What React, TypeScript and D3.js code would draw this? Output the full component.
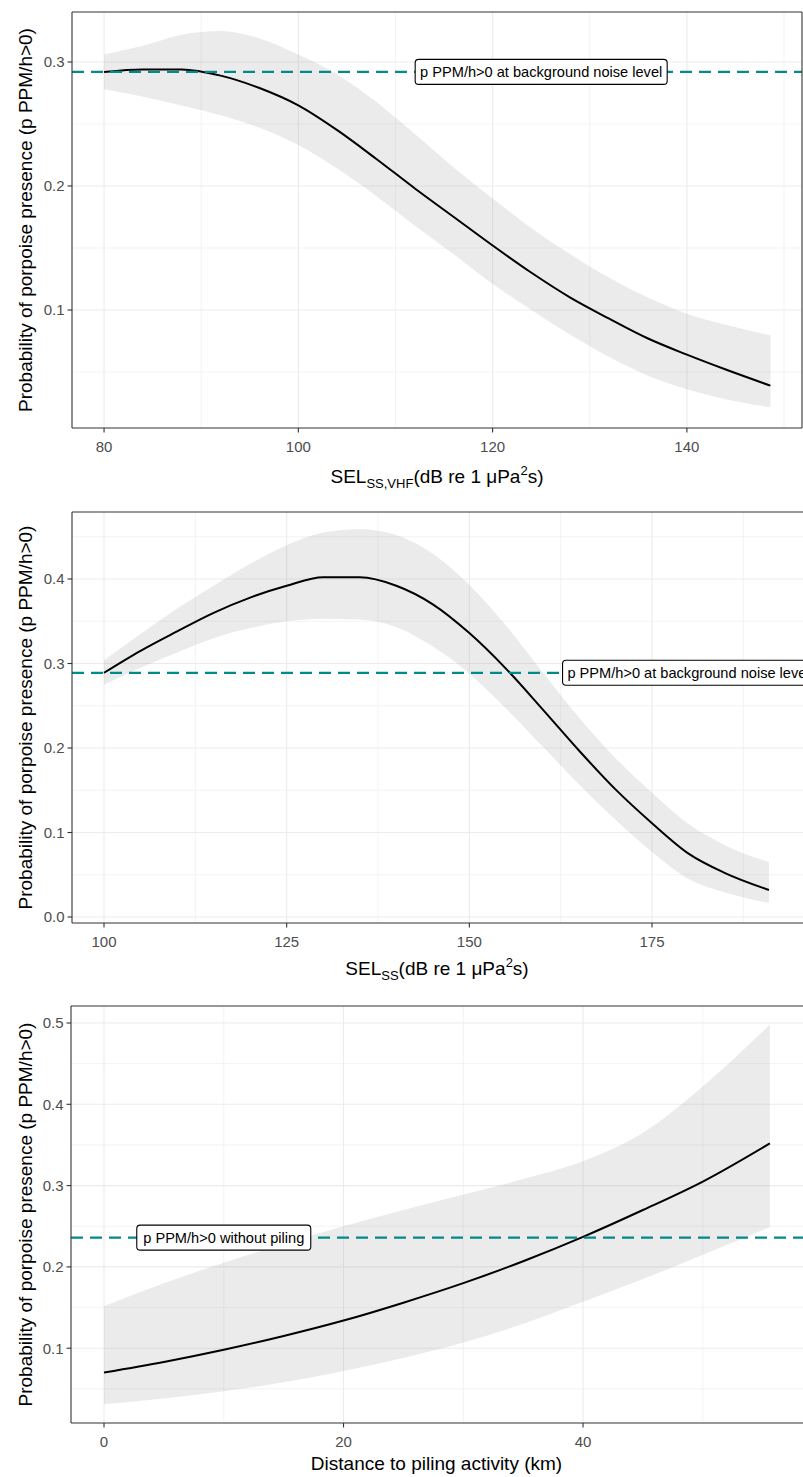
import React from "react";
import * as d3 from "d3";

// ---------- Panel 1: SEL_SS,VHF ----------
const sel1X = [80, 84, 88, 92, 96, 100, 104, 108, 112, 116, 120, 124, 128, 132, 136, 140, 144, 148.6];
const sel1Fit = [0.292, 0.294, 0.294, 0.289, 0.279, 0.265, 0.245, 0.222, 0.198, 0.175, 0.152, 0.13, 0.11, 0.093, 0.077, 0.064, 0.052, 0.039];
const sel1Upper = [0.306, 0.313, 0.322, 0.325, 0.319, 0.306, 0.29, 0.268, 0.242, 0.215, 0.19, 0.166, 0.145, 0.126, 0.11, 0.097, 0.088, 0.0796];
const sel1Lower = [0.278, 0.272, 0.265, 0.257, 0.247, 0.233, 0.214, 0.192, 0.168, 0.145, 0.121, 0.1, 0.08, 0.062, 0.047, 0.036, 0.028, 0.0216];
const sel1Baseline = 0.292;
const sel1XTicks = [80, 100, 120, 140];
const sel1XMinor = [90, 110, 130, 150];
const sel1YTicks = [0.1, 0.2, 0.3];
const sel1YMinor = [0.05, 0.15, 0.25];
const sel1XDomain = [76.7, 151.85];
const sel1YDomain = [0.00484, 0.3403];
const sel1LabelX = 125;

// ---------- Panel 2: SEL_SS ----------
const sel2X = [100, 105, 110, 115, 120, 125, 130, 135, 140, 145, 150, 155, 160, 165, 170, 175, 180, 185, 191];
const sel2Fit = [0.289, 0.315, 0.338, 0.36, 0.378, 0.392, 0.402, 0.402, 0.392, 0.37, 0.336, 0.294, 0.246, 0.197, 0.151, 0.111, 0.075, 0.052, 0.032];
const sel2Upper = [0.304, 0.335, 0.365, 0.392, 0.418, 0.44, 0.455, 0.459, 0.452, 0.43, 0.393, 0.345, 0.29, 0.236, 0.188, 0.147, 0.11, 0.085, 0.065];
const sel2Lower = [0.275, 0.295, 0.313, 0.33, 0.342, 0.35, 0.353, 0.352, 0.343, 0.32, 0.288, 0.247, 0.202, 0.157, 0.115, 0.077, 0.045, 0.029, 0.0166];
const sel2Baseline = 0.289;
const sel2XTicks = [100, 125, 150, 175];
const sel2XMinor = [112.5, 137.5, 162.5, 187.5];
const sel2YTicks = [0.0, 0.1, 0.2, 0.3, 0.4];
const sel2YMinor = [0.05, 0.15, 0.25, 0.35, 0.45];
const sel2XDomain = [95.62, 195.8];
const sel2YDomain = [-0.0071, 0.4793];
const sel2LabelX = 180;

// ---------- Panel 3: Distance ----------
const distX = [0, 5, 10, 15, 20, 25, 30, 35, 40, 45, 50, 55.6];
const distFit = [0.07, 0.083, 0.098, 0.115, 0.134, 0.156, 0.18, 0.207, 0.237, 0.27, 0.305, 0.352];
const distUpper = [0.152, 0.18, 0.205, 0.228, 0.25, 0.27, 0.289, 0.308, 0.33, 0.365, 0.422, 0.498];
const distLower = [0.031, 0.038, 0.047, 0.058, 0.072, 0.088, 0.107, 0.13, 0.157, 0.185, 0.215, 0.249];
const distBaseline = 0.236;
const distXTicks = [0, 20, 40];
const distXMinor = [10, 30, 50];
const distYTicks = [0.1, 0.2, 0.3, 0.4, 0.5];
const distYMinor = [0.05, 0.15, 0.25, 0.35, 0.45];
const distXDomain = [-2.756, 58.45];
const distYDomain = [0.008, 0.5209];
const distLabelX = 10;

const yTitle = "Probability of porpoise presence (p PPM/h>0)";
const labelBackground = "p PPM/h>0 at background noise level";
const labelNoPiling = "p PPM/h>0 without piling";

const FONT = "'Liberation Sans', Arial, Helvetica, sans-serif";

type PanelProps = {
  id: string;
  box: { left: number; right: number; top: number; bottom: number };
  xs: number[];
  fit: number[];
  upper: number[];
  lower: number[];
  baseline: number;
  xTicks: number[];
  xMinor: number[];
  yTicks: number[];
  yMinor: number[];
  xDomain: number[];
  yDomain: number[];
  labelX: number;
  label: string;
  labelW: number;
  titleY: number;
  xTitle: React.ReactNode;
  drawRight: boolean;
};

function Panel(p: PanelProps) {
  const { box } = p;
  const x = d3.scaleLinear().domain(p.xDomain).range([box.left, box.right]);
  const y = d3.scaleLinear().domain(p.yDomain).range([box.bottom, box.top]);
  const rows = p.xs.map((v, i) => ({ x: v, f: p.fit[i], u: p.upper[i], l: p.lower[i] }));
  const area = d3
    .area<any>()
    .x((d) => x(d.x))
    .y0((d) => y(d.l))
    .y1((d) => y(d.u))
    .curve(d3.curveMonotoneX);
  const line = d3
    .line<any>()
    .x((d) => x(d.x))
    .y((d) => y(d.f))
    .curve(d3.curveMonotoneX);
  const fmt = (v: number) => d3.format(".1f")(v);
  const lx = x(p.labelX);
  const ly = y(p.baseline);
  const fmtX = (v: number) => String(v);
  return (
    <g>
      <defs>
        <clipPath id={p.id}>
          <rect x={box.left} y={box.top} width={box.right - box.left} height={box.bottom - box.top} />
        </clipPath>
      </defs>
      <rect x={box.left} y={box.top} width={box.right - box.left} height={box.bottom - box.top} fill="#fff" />
      {p.yMinor.map((v) => (
        <line key={"ym" + v} x1={box.left} x2={box.right} y1={y(v)} y2={y(v)} stroke="#EBEBEB" strokeWidth={0.6} />
      ))}
      {p.xMinor.map((v) => (
        <line key={"xm" + v} x1={x(v)} x2={x(v)} y1={box.top} y2={box.bottom} stroke="#EBEBEB" strokeWidth={0.6} />
      ))}
      {p.yTicks.map((v) => (
        <line key={"yg" + v} x1={box.left} x2={box.right} y1={y(v)} y2={y(v)} stroke="#EBEBEB" strokeWidth={1.1} />
      ))}
      {p.xTicks.map((v) => (
        <line key={"xg" + v} x1={x(v)} x2={x(v)} y1={box.top} y2={box.bottom} stroke="#EBEBEB" strokeWidth={1.1} />
      ))}
      <g clipPath={`url(#${p.id})`}>
        <path d={area(rows) || ""} fill="#999999" fillOpacity={0.2} />
        <path d={line(rows) || ""} fill="none" stroke="#000" strokeWidth={2} />
        <line
          x1={box.left}
          x2={box.right}
          y1={y(p.baseline)}
          y2={y(p.baseline)}
          stroke="#008B8B"
          strokeWidth={2.3}
          strokeDasharray="12 7"
        />
      </g>
      <rect
        x={lx - p.labelW / 2}
        y={ly - 12.5}
        width={p.labelW}
        height={25}
        rx={3.5}
        ry={3.5}
        fill="#fff"
        stroke="#000"
        strokeWidth={1.1}
      />
      <text x={lx} y={ly} dy="0.35em" textAnchor="middle" fontFamily={FONT} fontSize={14.6} fill="#000">
        {p.label}
      </text>
      {/* panel border */}
      <line x1={box.left} x2={box.left} y1={box.top} y2={box.bottom} stroke="#333" strokeWidth={1.1} />
      <line x1={box.left} x2={box.right} y1={box.bottom} y2={box.bottom} stroke="#333" strokeWidth={1.1} />
      <line x1={box.left} x2={box.right} y1={box.top} y2={box.top} stroke="#333" strokeWidth={1.1} />
      {p.drawRight && (
        <line x1={box.right} x2={box.right} y1={box.top} y2={box.bottom} stroke="#333" strokeWidth={1.1} />
      )}
      {/* y ticks */}
      {p.yTicks.map((v) => (
        <g key={"yt" + v}>
          <line x1={box.left - 4.5} x2={box.left} y1={y(v)} y2={y(v)} stroke="#333" strokeWidth={1.1} />
          <text
            x={box.left - 7.5}
            y={y(v)}
            dy="0.36em"
            textAnchor="end"
            fontFamily={FONT}
            fontSize={15}
            fill="#4D4D4D"
          >
            {fmt(v)}
          </text>
        </g>
      ))}
      {/* x ticks */}
      {p.xTicks.map((v) => (
        <g key={"xt" + v}>
          <line x1={x(v)} x2={x(v)} y1={box.bottom} y2={box.bottom + 4.5} stroke="#333" strokeWidth={1.1} />
          <text
            x={x(v)}
            y={box.bottom + 19}
            dy="0.36em"
            textAnchor="middle"
            fontFamily={FONT}
            fontSize={15}
            fill="#4D4D4D"
          >
            {fmtX(v)}
          </text>
        </g>
      ))}
      {/* y title */}
      <text
        transform={`translate(25,${(box.top + box.bottom) / 2}) rotate(-90)`}
        dy="0.35em"
        textAnchor="middle"
        fontFamily={FONT}
        fontSize={19}
        fill="#000"
      >
        {yTitle}
      </text>
      {/* x title */}
      <text
        x={(box.left + Math.min(box.right, 802)) / 2}
        y={p.titleY}
        dy="0.35em"
        textAnchor="middle"
        fontFamily={FONT}
        fontSize={19}
        fill="#000"
      >
        {p.xTitle}
      </text>
    </g>
  );
}

export default function App() {
  const t1 = (
    <>
      <tspan>SEL</tspan>
      <tspan fontSize={13} dy={5}>SS,VHF</tspan>
      <tspan dy={-5}>(dB re 1 μPa</tspan>
      <tspan fontSize={13} dy={-8}>2</tspan>
      <tspan dy={8}>s)</tspan>
    </>
  );
  const t2 = (
    <>
      <tspan>SEL</tspan>
      <tspan fontSize={13} dy={5}>SS</tspan>
      <tspan dy={-5}>(dB re 1 μPa</tspan>
      <tspan fontSize={13} dy={-8}>2</tspan>
      <tspan dy={8}>s)</tspan>
    </>
  );
  return (
    <div style={{ position: "absolute", left: 0, top: 0 }}>
      <svg width={803} height={1477} style={{ display: "block", background: "#fff" }}>
        <Panel
          id="c1"
          box={{ left: 72, right: 802, top: 12, bottom: 428 }}
          xs={sel1X}
          fit={sel1Fit}
          upper={sel1Upper}
          lower={sel1Lower}
          baseline={sel1Baseline}
          xTicks={sel1XTicks}
          xMinor={sel1XMinor}
          yTicks={sel1YTicks}
          yMinor={sel1YMinor}
          xDomain={sel1XDomain}
          yDomain={sel1YDomain}
          labelX={sel1LabelX}
          label={labelBackground}
          labelW={252}
          titleY={476}
          xTitle={t1}
          drawRight={true}
        />
        <Panel
          id="c2"
          box={{ left: 72, right: 804, top: 512, bottom: 923 }}
          xs={sel2X}
          fit={sel2Fit}
          upper={sel2Upper}
          lower={sel2Lower}
          baseline={sel2Baseline}
          xTicks={sel2XTicks}
          xMinor={sel2XMinor}
          yTicks={sel2YTicks}
          yMinor={sel2YMinor}
          xDomain={sel2XDomain}
          yDomain={sel2YDomain}
          labelX={sel2LabelX}
          label={labelBackground}
          labelW={252}
          titleY={968}
          xTitle={t2}
          drawRight={false}
        />
        <Panel
          id="c3"
          box={{ left: 71, right: 804, top: 1006, bottom: 1423 }}
          xs={distX}
          fit={distFit}
          upper={distUpper}
          lower={distLower}
          baseline={distBaseline}
          xTicks={distXTicks}
          xMinor={distXMinor}
          yTicks={distYTicks}
          yMinor={distYMinor}
          xDomain={distXDomain}
          yDomain={distYDomain}
          labelX={distLabelX}
          label={labelNoPiling}
          labelW={174}
          titleY={1463}
          xTitle={"Distance to piling activity (km)"}
          drawRight={false}
        />
      </svg>
    </div>
  );
}
